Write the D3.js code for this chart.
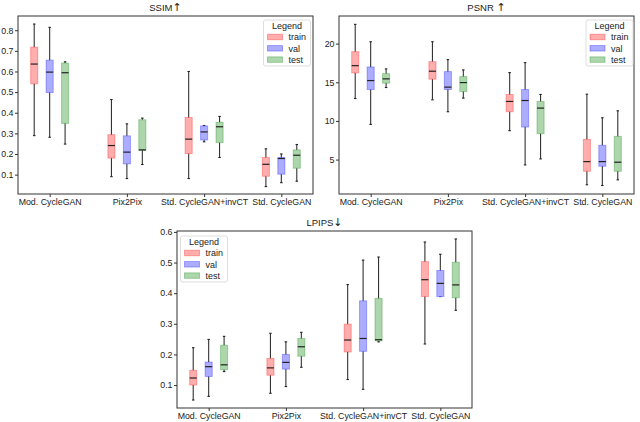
<!DOCTYPE html>
<html>
<head>
<meta charset="utf-8">
<script src="https://d3js.org/d3.v7.min.js"></script>
<style>
  body { margin:0; background:white; }
  text { font-family:"Liberation Sans", Arial, sans-serif; font-size:9px; fill:#222; }
  .title { font-size:9.5px; }
  .arrow { font-family:"DejaVu Sans", sans-serif; font-size:11px; }
  .axis path, .axis line { stroke:#333; }
</style>
</head>
<body>
<script>
// each box: [whisker low, q1, median, q3, whisker high]
var categories = ["Mod. CycleGAN", "Pix2Pix", "Std. CycleGAN+invCT", "Std. CycleGAN"];
var splits = ["train", "val", "test"];

var ssimTrain = [[0.289,0.540,0.636,0.718,0.830],[0.090,0.180,0.241,0.294,0.464],[0.081,0.202,0.272,0.377,0.600],[0.042,0.092,0.150,0.183,0.225]];
var ssimVal   = [[0.281,0.498,0.597,0.655,0.814],[0.081,0.152,0.209,0.288,0.346],[0.259,0.268,0.307,0.336,0.338],[0.061,0.102,0.178,0.183,0.200]];
var ssimTest  = [[0.248,0.348,0.594,0.641,0.647],[0.149,0.217,0.220,0.366,0.374],[0.183,0.255,0.332,0.354,0.382],[0.068,0.131,0.194,0.220,0.246]];

var psnrTrain = [[12.9,16.21,17.15,18.96,22.49],[12.73,15.4,16.43,17.67,20.24],[8.74,11.19,12.52,13.42,16.25],[1.74,3.49,4.74,7.62,13.46]];
var psnrVal   = [[9.55,14.06,15.22,16.98,20.24],[11.19,14.06,14.37,16.38,17.93],[4.31,9.21,12.64,14.06,17.54],[1.65,4.14,4.74,6.85,10.41]];
var psnrTest  = [[14.32,14.88,15.44,16.12,16.73],[12.95,13.8,14.96,15.74,16.6],[5.09,8.35,11.66,12.52,13.42],[2.38,3.49,4.66,8.0,11.31]];

var lpipsTrain = [[0.051,0.100,0.123,0.148,0.222],[0.073,0.132,0.156,0.187,0.269],[0.118,0.208,0.247,0.299,0.428],[0.234,0.389,0.444,0.503,0.567]];
var lpipsVal   = [[0.063,0.128,0.160,0.175,0.249],[0.095,0.152,0.174,0.200,0.241],[0.086,0.210,0.252,0.375,0.508],[0.389,0.389,0.432,0.474,0.527]];
var lpipsTest  = [[0.144,0.150,0.166,0.230,0.259],[0.158,0.194,0.225,0.252,0.272],[0.241,0.244,0.248,0.383,0.518],[0.344,0.385,0.427,0.501,0.577]];

var ssimTicks = [0.1,0.2,0.3,0.4,0.5,0.6,0.7,0.8];
var psnrTicks = [5,10,15,20];
var lpipsTicks = [0.1,0.2,0.3,0.4,0.5,0.6];

var colors = ["rgb(255,0,0)", "rgb(0,0,255)", "rgb(0,128,0)"];
var offsets = [-0.2, 0, 0.2];

var svg = d3.select("body").append("svg").attr("width",640).attr("height",422);

function panel(title, arrow, series, ticks, fmt, ydom, box, legendAt) {
  var x = d3.scaleLinear().domain([0.59,4.41]).range([box[0], box[1]]);
  var y = d3.scaleLinear().domain(ydom).range([box[3], box[2]]);
  var g = svg.append("g");
  var bw = x(1.046) - x(1);

  g.append("g").attr("class","axis").attr("transform","translate("+box[0]+",0)")
    .call(d3.axisLeft(y).tickValues(ticks).tickFormat(fmt).tickSize(3).tickPadding(1.5))
    .call(function(a){ a.select(".domain").remove(); });
  g.append("g").attr("class","axis").attr("transform","translate(0,"+box[3]+")")
    .call(d3.axisBottom(x).tickValues([1,2,3,4]).tickFormat(function(d){return categories[d-1];}).tickSize(3).tickPadding(2))
    .call(function(a){ a.select(".domain").remove(); });
  g.selectAll(".axis text").style("font-size","8.8px").style("font-family","'Liberation Sans', Arial, sans-serif").attr("fill","#222");

  series.forEach(function(s, si) {
    var bx = g.selectAll(".b"+si).data(s).enter().append("g");
    var cx = function(d,i){ return x(i+1+offsets[si]); };
    bx.append("line").attr("x1",cx).attr("x2",cx)
      .attr("y1",function(d){return y(d[0]);}).attr("y2",function(d){return y(d[4]);})
      .attr("stroke","#333").attr("stroke-width",1.1);
    [0,4].forEach(function(k){
      bx.append("line").attr("x1",function(d,i){return cx(d,i)-bw*0.35;}).attr("x2",function(d,i){return cx(d,i)+bw*0.35;})
        .attr("y1",function(d){return y(d[k]);}).attr("y2",function(d){return y(d[k]);})
        .attr("stroke","#222").attr("stroke-width",1.1);
    });
    bx.append("rect").attr("x",function(d,i){return cx(d,i)-bw;}).attr("width",bw*2)
      .attr("y",function(d){return y(d[3]);}).attr("height",function(d){return Math.max(0.5, y(d[1])-y(d[3]));})
      .attr("fill","white");
    bx.append("rect").attr("x",function(d,i){return cx(d,i)-bw;}).attr("width",bw*2)
      .attr("y",function(d){return y(d[3]);}).attr("height",function(d){return Math.max(0.5, y(d[1])-y(d[3]));})
      .attr("fill",colors[si]).attr("fill-opacity",0.32)
      .attr("stroke",colors[si]).attr("stroke-opacity",0.3).attr("stroke-width",1);
    bx.append("line").attr("x1",function(d,i){return cx(d,i)-bw;}).attr("x2",function(d,i){return cx(d,i)+bw;})
      .attr("y1",function(d){return y(d[2]);}).attr("y2",function(d){return y(d[2]);})
      .attr("stroke","#222").attr("stroke-width",1.2);
  });

  g.append("rect").attr("x",box[0]).attr("y",box[2]).attr("width",box[1]-box[0]).attr("height",box[3]-box[2])
    .attr("fill","none").attr("stroke","#333").attr("stroke-width",1);
  var t = g.append("text").attr("class","title").attr("x",(box[0]+box[1])/2).attr("y",box[2]-5)
    .attr("text-anchor","middle");
  t.append("tspan").text(title);
  t.append("tspan").attr("class","arrow").text(arrow);

  var lg = g.append("g").attr("transform","translate("+legendAt[0]+","+legendAt[1]+")");
  lg.append("rect").attr("width",47).attr("height",46).attr("rx",2)
    .attr("fill","white").attr("fill-opacity",0.8).attr("stroke","#d5d5d5").attr("stroke-width",0.8);
  lg.append("text").attr("x",23.5).attr("y",9).attr("text-anchor","middle").text("Legend");
  var en = lg.selectAll(".le").data(splits).enter().append("g")
    .attr("transform",function(d,i){return "translate(4,"+(17+i*11.3)+")";});
  en.append("rect").attr("width",15).attr("height",5.5).attr("y",-2.75)
    .attr("fill",function(d,i){return colors[i];}).attr("fill-opacity",0.32)
    .attr("stroke",function(d,i){return colors[i];}).attr("stroke-opacity",0.3);
  en.append("text").attr("x",21).attr("y",3.2).text(function(d){return d;});
}

panel("SSIM", "\u2191", [ssimTrain, ssimVal, ssimTest], ssimTicks, d3.format(".1f"), [0.006,0.869], [18,313,16,194], [263.5,20]);
panel("PSNR ", "\u2191", [psnrTrain, psnrVal, psnrTest], psnrTicks, d3.format("d"), [0.55,23.57], [339,634,16,194], [586,20]);
panel("LPIPS", "\u2193", [lpipsTrain, lpipsVal, lpipsTest], lpipsTicks, d3.format(".1f"), [0.025,0.603], [177,472,231,408], [180.5,236]);
</script>
</body>
</html>
